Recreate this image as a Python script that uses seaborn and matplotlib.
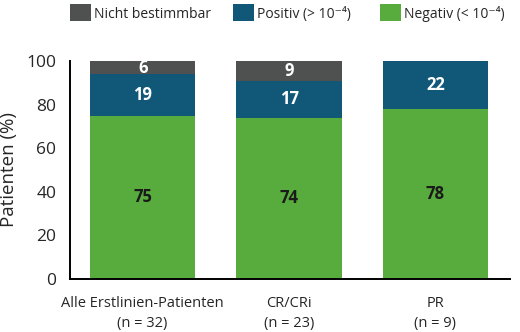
import matplotlib
matplotlib.use("Agg")
import matplotlib.pyplot as plt
from matplotlib.patches import Patch
import seaborn as sns
import pandas as pd

groups = ["Alle Erstlinien-Patienten\n(n = 32)", "CR/CRi\n(n = 23)", "PR\n(n = 9)"]
negativ = [75, 74, 78]
positiv = [19, 17, 22]
nicht_bestimmbar = [6, 9, 0]
series_names = ["Nicht bestimmbar", "Positiv (> 10\u207b\u2074)", "Negativ (< 10\u207b\u2074)"]
yticks = [0, 20, 40, 60, 80, 100]

c_grey = "#4f5150"
c_blue = "#115878"
c_green = "#58ab3d"

sns.set_theme(style="white")
plt.rcParams["font.family"] = ["Open Sans", "DejaVu Sans"]

df = pd.DataFrame({
    "group": groups,
    "neg": negativ,
    "pos": positiv,
    "nb": nicht_bestimmbar,
})
df["top_pos"] = df["neg"] + df["pos"]
df["top_nb"] = df["top_pos"] + df["nb"]

fig = plt.figure(figsize=(5.2, 3.32), dpi=100)
ax = fig.add_axes([0.135, 0.16, 0.846, 0.656])

# stacked bars drawn as overlapping cumulative totals
for col, color in [("top_nb", c_grey), ("top_pos", c_blue), ("neg", c_green)]:
    sns.barplot(data=df, x="group", y=col, color=color, width=0.72,
                saturation=1, ax=ax, linewidth=0, errorbar=None)

for i, row in df.iterrows():
    ax.text(i, row["neg"] / 2, f"{row['neg']}", ha="center", va="center",
            color="#1a1a1a", fontsize=12, fontweight="bold")
    if row["pos"] > 0:
        ax.text(i, row["neg"] + row["pos"] / 2, f"{row['pos']}", ha="center",
                va="center", color="white", fontsize=12, fontweight="bold")
    if row["nb"] > 0:
        ax.text(i, row["top_pos"] + row["nb"] / 2, f"{row['nb']}", ha="center",
                va="center", color="white", fontsize=12, fontweight="bold")

ax.set_ylim(0, 100)
ax.set_xlim(-0.495, 2.51)
ax.set_yticks(yticks)
ax.set_yticklabels([str(t) for t in yticks], fontsize=12.5)
ax.tick_params(axis="y", direction="out", length=7, width=1.3, color="black", pad=3)
ax.tick_params(axis="x", length=0, labelsize=10.5, pad=12)
for lbl in ax.get_xticklabels():
    lbl.set_linespacing(1.5)
ax.set_xlabel("")
ax.set_ylabel("Patienten (%)", fontsize=13.5, labelpad=6)
for s in ["top", "right"]:
    ax.spines[s].set_visible(False)
for s in ["left", "bottom"]:
    ax.spines[s].set_color("black")
    ax.spines[s].set_linewidth(1.4)

# legend entries placed individually along the top
for name, color, x0 in zip(series_names, (c_grey, c_blue, c_green), (70, 233, 380)):
    fig.legend([Patch(facecolor=color, edgecolor="none")], [name],
               loc="center left", bbox_to_anchor=(x0 / 520, 1 - 13 / 332),
               frameon=False, fontsize=10, handlelength=1.5, handleheight=1.5,
               handletextpad=0.25, borderpad=0, borderaxespad=0)

fig.savefig("out.png", dpi=100)
